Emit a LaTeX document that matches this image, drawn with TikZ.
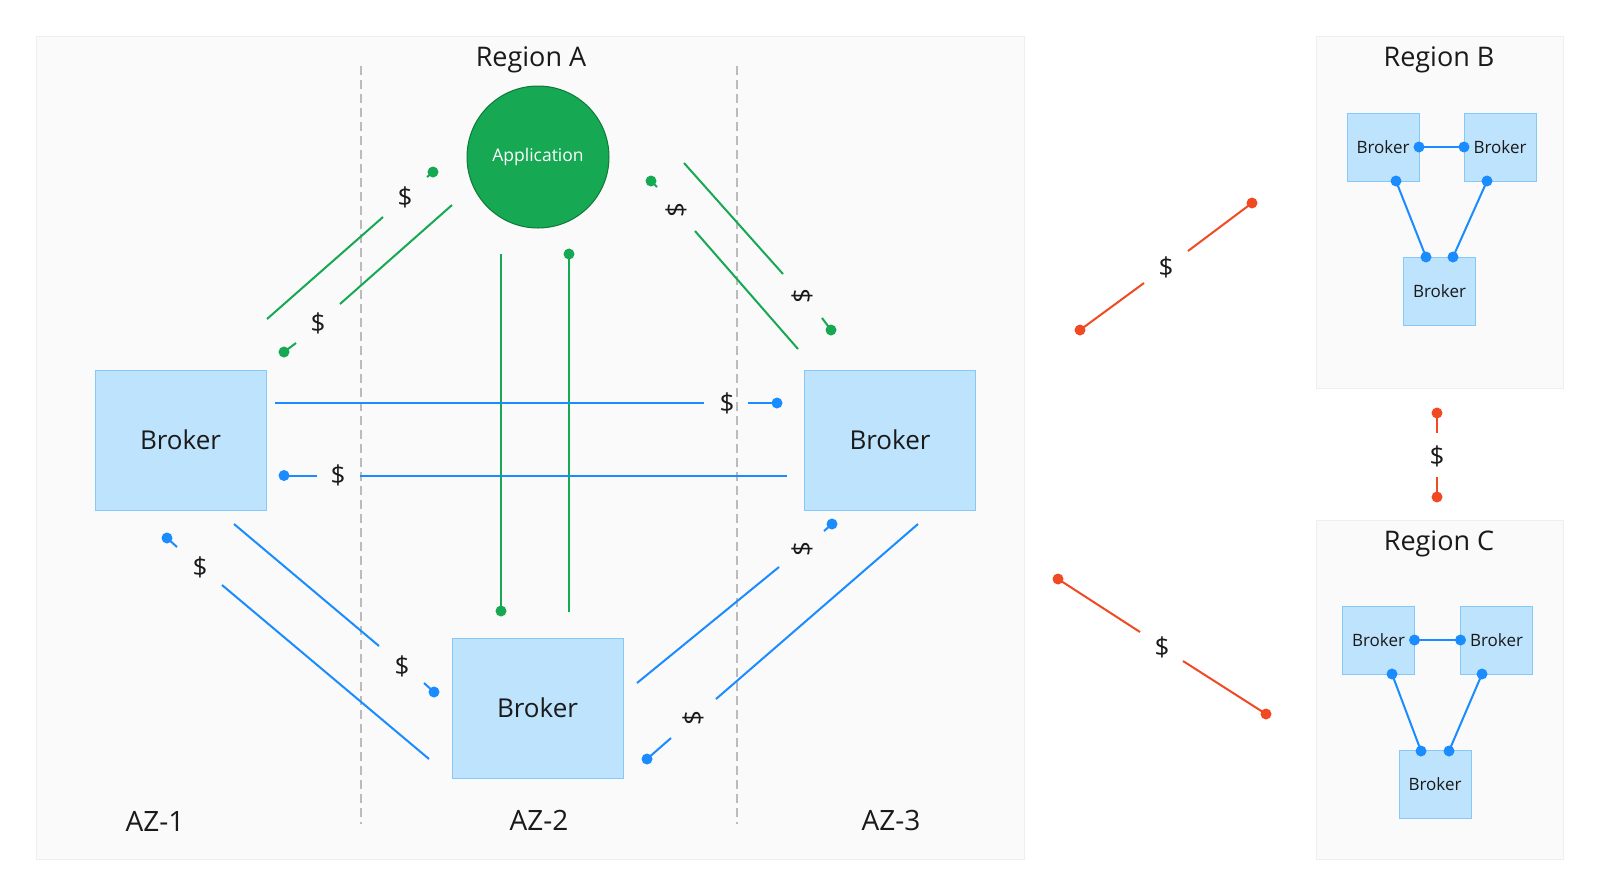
\documentclass[tikz,border=0pt]{standalone}
\usepackage{fontspec}
\setmainfont{Open Sans}
\definecolor{panelbg}{HTML}{FAFAFA}
\definecolor{panelline}{HTML}{EEEEEE}
\definecolor{gline}{HTML}{16A853}
\definecolor{gdark}{HTML}{0E7A3A}
\definecolor{bline}{HTML}{1A8CFF}
\definecolor{bfill}{HTML}{BEE3FC}
\definecolor{bedge}{HTML}{86C8F8}
\definecolor{oline}{HTML}{F04A23}
\definecolor{dashgray}{HTML}{BBBBBB}
\definecolor{txt}{HTML}{1A1A1A}
\tikzset{
  panel/.style={fill=panelbg,draw=panelline,line width=0.8},
  bigbroker/.style={draw=bedge,fill=bfill,line width=1,minimum width=171,minimum height=140,inner sep=0,text=txt,font=\fontsize{26}{29}\selectfont},
  smallbroker/.style={draw=bedge,fill=bfill,line width=1,minimum width=72,minimum height=68,inner sep=0,text=txt,font=\fontsize{17}{20}\selectfont},
  title/.style={text=txt,font=\fontsize{27}{30}\selectfont},
  azlabel/.style={text=txt,font=\fontsize{28}{31}\selectfont},
  dollar/.style={text=txt,font=\fontsize{26}{29}\selectfont,inner sep=0},
  linkline/.style={line width=2},
  zone/.style={draw=dashgray,line width=1.6,dash pattern=on 9 off 5},
}
\newcommand\costlink[8]{%
  \coordinate (#1-s) at (#3);
  \coordinate (#1-e) at (#4);
  \coordinate (#1-t) at (#6);
  \coordinate (#1-d) at (#7);
  \draw[#2,linkline] (#1-s) -- (#1-e);
  \node[dollar,rotate=#8] (#1-l) at (#5) {\$};
  \draw[#2,linkline] (#1-t) -- (#1-d);
  \fill[#2] (#1-d) circle (5.5);
}
\newcommand\ocostlink[7]{%
  \coordinate (#1-s) at (#2);
  \coordinate (#1-e) at (#3);
  \coordinate (#1-t) at (#5);
  \coordinate (#1-d) at (#6);
  \draw[oline,linkline] (#1-s) -- (#1-e);
  \node[dollar,rotate=#7] (#1-l) at (#4) {\$};
  \draw[oline,linkline] (#1-t) -- (#1-d);
  \fill[oline] (#1-s) circle (5.5);
  \fill[oline] (#1-d) circle (5.5);
}
\begin{document}
\begin{tikzpicture}[x=1pt,y=-1pt]
\useasboundingbox (0,0) rectangle (1600,895);
\fill[white] (0,0) rectangle (1600,895);
% panels
\draw[panel] (36,36) rectangle (1024,859);
\draw[panel] (1316,36) rectangle (1563,388);
\draw[panel] (1316,520) rectangle (1563,859);
% zones
\draw[zone] (361,66) -- (361,824);
\draw[zone] (737,66) -- (737,824);
% titles
\node[title] (ta) at (531,60) {Region A};
\node[title] (tb) at (1439,60) {Region B};
\node[title] (tc) at (1439,544) {Region C};
\node[azlabel] (az1) at (155,821) {AZ-1};
\node[azlabel] (az2) at (539,820) {AZ-2};
\node[azlabel] (az3) at (891,820) {AZ-3};
% main nodes
\node[circle,fill=gline,draw=gdark,line width=1,minimum size=142,inner sep=0,text=white,font=\fontsize{17.5}{20}\selectfont] (app) at (538,157) {Application};
\node[bigbroker] (bl) at (180.5,440) {Broker};
\node[bigbroker] (br) at (890,440) {Broker};
\node[bigbroker] (bb) at (537.5,708) {Broker};
% green links
\costlink{g1}{gline}{267,319}{383,217}{405,197}{427,177}{433,172}{0}
\costlink{g2}{gline}{452,205}{340,304}{318,323}{296,343}{284,352}{0}
\costlink{g3}{gline}{684,163}{783,274}{802,296}{822,318}{831,330}{90}
\costlink{g4}{gline}{798,349}{695,231}{676,210}{657,187}{651,181}{90}
\coordinate (g5-s) at (501,254);
\coordinate (g5-d) at (501,611);
\draw[gline,linkline] (g5-s) -- (g5-d);
\fill[gline] (g5-d) circle (5.5);
\coordinate (g6-s) at (569,612);
\coordinate (g6-d) at (569,254);
\draw[gline,linkline] (g6-s) -- (g6-d);
\fill[gline] (g6-d) circle (5.5);
% blue links
\costlink{b1}{bline}{275,403}{704,403}{727,403}{748,403}{777,403}{0}
\costlink{b2}{bline}{787,475.5}{360,475.5}{338,475.5}{317,475.5}{284,475.5}{0}
\costlink{b3}{bline}{234,524}{379,646}{402,666}{424,683}{434,692}{0}
\costlink{b4}{bline}{429,759}{222,585}{200,567}{177,547}{167,538}{0}
\costlink{b5}{bline}{637,683}{779,567}{802,549}{824,531}{832,524}{90}
\costlink{b6}{bline}{918,524}{716,699}{693,718}{671,738}{647,759}{90}
% orange links
\ocostlink{o1}{1080,330}{1144,283}{1166,267}{1188,251}{1252,203}{0}
\ocostlink{o2}{1058,579}{1140,632}{1162,647}{1183,661}{1266,714}{0}
\ocostlink{o3}{1437,413}{1437,433}{1437,456}{1437,477}{1437,497}{0}
% region B
\node[smallbroker] (rb1) at (1383,147) {Broker};
\node[smallbroker] (rb2) at (1500,147) {Broker};
\node[smallbroker] (rb3) at (1439.5,291) {Broker};
\coordinate (rb1r) at (1419,147);
\coordinate (rb2l) at (1464,147);
\coordinate (rb1b) at (1396,181);
\coordinate (rb2b) at (1487,181);
\coordinate (rb3a) at (1426,257);
\coordinate (rb3b) at (1453,257);
\draw[bline,linkline] (rb1r) -- (rb2l);
\draw[bline,linkline] (rb1b) -- (rb3a);
\draw[bline,linkline] (rb2b) -- (rb3b);
\foreach \p in {rb1r,rb2l,rb1b,rb2b,rb3a,rb3b} \fill[bline] (\p) circle (5.5);
% region C
\node[smallbroker] (rc1) at (1378.5,640) {Broker};
\node[smallbroker] (rc2) at (1496.5,640) {Broker};
\node[smallbroker] (rc3) at (1435,784.5) {Broker};
\coordinate (rc1r) at (1414.5,640);
\coordinate (rc2l) at (1460.5,640);
\coordinate (rc1b) at (1392,674);
\coordinate (rc2b) at (1482,674);
\coordinate (rc3a) at (1421,751);
\coordinate (rc3b) at (1449,751);
\draw[bline,linkline] (rc1r) -- (rc2l);
\draw[bline,linkline] (rc1b) -- (rc3a);
\draw[bline,linkline] (rc2b) -- (rc3b);
\foreach \p in {rc1r,rc2l,rc1b,rc2b,rc3a,rc3b} \fill[bline] (\p) circle (5.5);
\end{tikzpicture}
\end{document}
